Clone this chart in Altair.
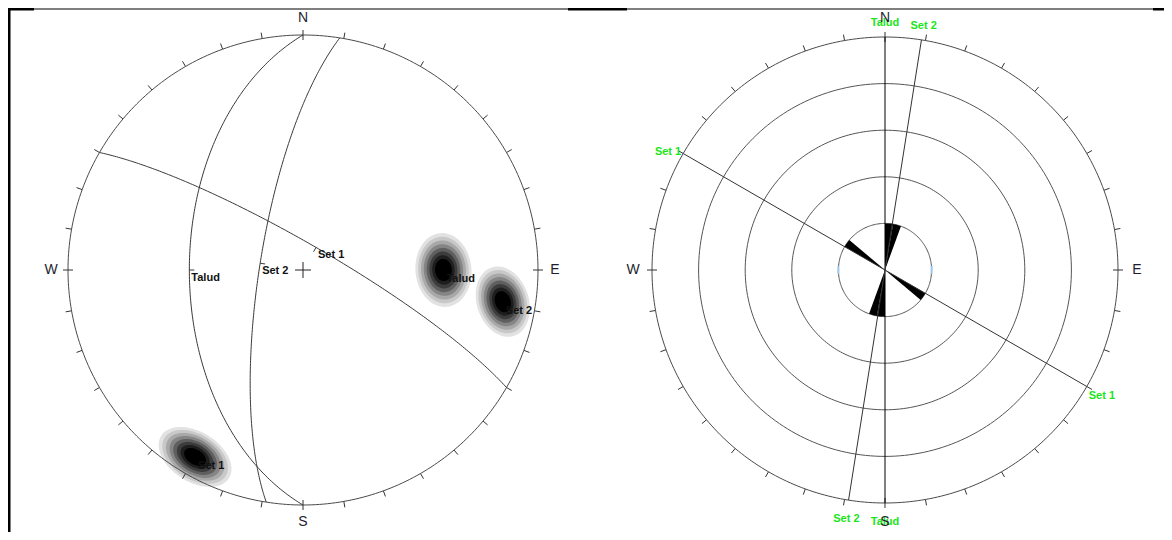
import math
import numpy as np
import pandas as pd
import altair as alt

# ---------------- data ----------------
plane_names = ["Talud", "Set 1", "Set 2"]
dip_directions = [270, 30, 279]
dip_angles = [50, 81, 75]

# spread of each pole cloud (ellipse semi-axes / tilt)
cluster_major = [37, 40, 36]
cluster_minor = [28, 25, 26]
cluster_tilt = [85, 32, 72]
density_levels = [1.0, 0.9, 0.8, 0.7, 0.6, 0.5, 0.4, 0.3]
density_greys = ["#e2e2e2", "#c8c8c8", "#a8a8a8", "#858585", "#5f5f5f", "#3c3c3c", "#1e1e1e", "#000000"]

# rose diagram of strikes
rose_bin_start = [0, 10, 120]
rose_counts = [1, 1, 1]
rose_bin_width = 10
rose_rings = [1, 2, 3, 4, 5]

tick_step = 10
cardinal_labels = ["N", "E", "S", "W"]
cardinal_az = [0, 90, 180, 270]

# ---------------- layout ----------------
W, H = 1156, 524
OFF = 8
CXL, CYL, RL = 303, 270, 235
CXR, CYR, RR = 885, 270, 233
FONT = "Liberation Sans"
GREEN = "#19e619"

XS = alt.Scale(domain=[OFF, OFF + W], nice=False, zero=False)
YS = alt.Scale(domain=[OFF + H, OFF], nice=False, zero=False)


def proj(trend, plunge, cx, cy, R):
    r = R * math.sqrt(2) * math.sin(math.radians(90 - plunge) / 2)
    return cx + r * math.sin(math.radians(trend)), cy - r * math.cos(math.radians(trend))


def great_circle(dd, dip, n=181):
    s = math.radians(dd - 90)
    d = math.radians(dd)
    dp = math.radians(dip)
    sv = np.array([math.sin(s), math.cos(s), 0.0])
    dv = np.array([math.sin(d) * math.cos(dp), math.cos(d) * math.cos(dp), -math.sin(dp)])
    pts = []
    for a in np.linspace(0, 180, n):
        v = math.cos(math.radians(a)) * sv + math.sin(math.radians(a)) * dv
        tr = math.degrees(math.atan2(v[0], v[1]))
        pl = math.degrees(math.asin(max(-1.0, min(1.0, -v[2]))))
        pts.append(proj(tr, pl, CXL, CYL, RL))
    return pts


def pt(cx, cy, r, az):
    return cx + r * math.sin(math.radians(az)), cy - r * math.cos(math.radians(az))


def xy():
    return dict(x=alt.X("x:Q", scale=XS, axis=None), y=alt.Y("y:Q", scale=YS, axis=None))


def xy2():
    return dict(x=alt.X("x:Q", scale=XS, axis=None), y=alt.Y("y:Q", scale=YS, axis=None),
                x2="x2:Q", y2="y2:Q")


layers = []

# ---------- frame ----------
frame = pd.DataFrame([
    dict(x=OFF, y=OFF + 1, x2=OFF + W, y2=OFF + 1, w=1),
    dict(x=OFF, y=OFF + 1, x2=34, y2=OFF + 1, w=3),
    dict(x=568, y=OFF + 1, x2=627, y2=OFF + 1, w=3),
    dict(x=1153, y=OFF + 1, x2=OFF + W, y2=OFF + 1, w=3),
    dict(x=OFF + 1, y=OFF, x2=OFF + 1, y2=OFF + H, w=3),
])
layers.append(alt.Chart(frame).mark_rule(color="#000").encode(
    strokeWidth=alt.StrokeWidth("w:Q", scale=None), **xy2()))

# ---------- left panel: density clusters ----------
poles = [proj((dd + 180) % 360, 90 - dp, CXL, CYL, RL) for dd, dp in zip(dip_directions, dip_angles)]
for lev, col in zip(density_levels, density_greys):
    rows = []
    for k, (name, (px, py)) in enumerate(zip(plane_names, poles)):
        a = cluster_major[k] * lev
        b = cluster_minor[k] * lev
        ph = math.radians(cluster_tilt[k])
        for i, t in enumerate(np.linspace(0, 2 * math.pi, 61)):
            x = px + a * math.cos(t) * math.cos(ph) - b * math.sin(t) * math.sin(ph)
            y = py + a * math.cos(t) * math.sin(ph) + b * math.sin(t) * math.cos(ph)
            rows.append(dict(name=name, i=i, x=x, y=y))
    layers.append(alt.Chart(pd.DataFrame(rows)).mark_line(filled=True, color=col, strokeWidth=0).encode(
        detail="name:N", order="i:Q", **xy()))

# ---------- primitive circles ----------
rows = []
for panel, (cx, cy, R) in enumerate([(CXL, CYL, RL), (CXR, CYR, RR)]):
    for i, az in enumerate(np.linspace(0, 360, 361)):
        x, y = pt(cx, cy, R, az)
        rows.append(dict(panel=panel, i=i, x=x, y=y))
layers.append(alt.Chart(pd.DataFrame(rows)).mark_line(color="#4a4a4a", strokeWidth=1).encode(
    detail="panel:N", order="i:Q", **xy()))

# rose rings
rows = []
for ring in rose_rings[:-1]:
    for i, az in enumerate(np.linspace(0, 360, 241)):
        x, y = pt(CXR, CYR, RR * ring / rose_rings[-1], az)
        rows.append(dict(ring=ring, i=i, x=x, y=y))
layers.append(alt.Chart(pd.DataFrame(rows)).mark_line(color="#555555", strokeWidth=1).encode(
    detail="ring:N", order="i:Q", **xy()))

# ticks
rows = []
for (cx, cy, R) in [(CXL, CYL, RL), (CXR, CYR, RR)]:
    for az in range(0, 360, tick_step):
        if az in cardinal_az:
            r0, r1 = R - 5, R + 5
        else:
            r0, r1 = R, R + 6
        x, y = pt(cx, cy, r0, az)
        x2, y2 = pt(cx, cy, r1, az)
        rows.append(dict(x=x, y=y, x2=x2, y2=y2))
layers.append(alt.Chart(pd.DataFrame(rows)).mark_rule(color="#333333", strokeWidth=1).encode(**xy2()))

# ---------- great circles ----------
rows = []
for name, dd, dp in zip(plane_names, dip_directions, dip_angles):
    for i, (x, y) in enumerate(great_circle(dd, dp)):
        rows.append(dict(name=name, i=i, x=x, y=y))
layers.append(alt.Chart(pd.DataFrame(rows)).mark_line(color="#3a3a3a", strokeWidth=1).encode(
    detail="name:N", order="i:Q", **xy()))

# mid-point ticks + labels
mid_rows, mtick = [], []
for name, dd, dp in zip(plane_names, dip_directions, dip_angles):
    mx, my = proj(dd, dp, CXL, CYL, RL)
    mid_rows.append(dict(name=name, x=mx, y=my))
    ux, uy = math.sin(math.radians(dd + 180)), -math.cos(math.radians(dd + 180))
    mtick.append(dict(x=mx, y=my, x2=mx + 5 * ux, y2=my + 5 * uy))
layers.append(alt.Chart(pd.DataFrame(mtick)).mark_rule(color="#3a3a3a").encode(**xy2()))
layers.append(alt.Chart(pd.DataFrame(mid_rows)).mark_text(
    font=FONT, fontSize=11, fontWeight="bold", align="left", baseline="middle", dx=2, dy=8, color="#111"
).encode(text="name:N", **xy()))

# pole labels
pole_df = pd.DataFrame([dict(name=n, x=p[0], y=p[1]) for n, p in zip(plane_names, poles)])
layers.append(alt.Chart(pole_df).mark_text(
    font=FONT, fontSize=11, fontWeight="bold", align="left", baseline="middle", dx=3, dy=9, color="#111"
).encode(text="name:N", **xy()))

# centre cross
cross = pd.DataFrame([dict(x=CXL - 8, y=CYL, x2=CXL + 8, y2=CYL), dict(x=CXL, y=CYL - 8, x2=CXL, y2=CYL + 8)])
layers.append(alt.Chart(cross).mark_rule(color="#222").encode(**xy2()))

# ---------- rose petals ----------
rows = []
k = 0
for b0, c in zip(rose_bin_start, rose_counts):
    for start in (b0, b0 + 180):
        r = RR * c / rose_rings[-1]
        pts = [(CXR, CYR)] + [pt(CXR, CYR, r, a) for a in np.linspace(start, start + rose_bin_width, 11)] + [(CXR, CYR)]
        for i, (x, y) in enumerate(pts):
            rows.append(dict(p=k, i=i, x=x, y=y))
        k += 1
layers.append(alt.Chart(pd.DataFrame(rows)).mark_line(filled=True, color="#000", strokeWidth=0.5).encode(
    detail="p:N", order="i:Q", **xy()))

# light blue marks on inner ring
blue = pd.DataFrame([dict(x=CXR - RR / 5, y=CYR - 4, x2=CXR - RR / 5, y2=CYR + 4),
                     dict(x=CXR + RR / 5, y=CYR - 4, x2=CXR + RR / 5, y2=CYR + 4)])
layers.append(alt.Chart(blue).mark_rule(color="#9cc8ef", strokeWidth=2).encode(**xy2()))

# strike lines
rows = []
lab_top, lab_bot, lab_w, lab_e = [], [], [], []
for name, dd in zip(plane_names, dip_directions):
    s = (dd - 90) % 180
    x1, y1 = pt(CXR, CYR, RR, s)
    x2, y2 = pt(CXR, CYR, RR, s + 180)
    rows.append(dict(name=name, x=x1, y=y1, x2=x2, y2=y2, col="#000" if name == "Talud" else "#333"))
    for az in (s, s + 180):
        a = az % 360
        ex, ey = pt(CXR, CYR, RR, a)
        if abs(math.cos(math.radians(a))) > 0.7:
            lx, ly = pt(CXR, CYR, RR + 14, a)
            if math.cos(math.radians(a)) > 0:
                lab_top.append(dict(name=name, x=lx, y=ly))
            else:
                lab_bot.append(dict(name=name, x=lx, y=ly + 5))
        elif math.sin(math.radians(a)) < 0:
            lab_w.append(dict(name=name, x=ex, y=ey))
        else:
            lab_e.append(dict(name=name, x=ex, y=ey))
layers.append(alt.Chart(pd.DataFrame(rows)).mark_rule(strokeWidth=1).encode(
    color=alt.Color("col:N", scale=None), **xy2()))

gtxt = dict(font=FONT, fontSize=11, fontWeight="bold", color=GREEN)
if lab_top:
    layers.append(alt.Chart(pd.DataFrame(lab_top)).mark_text(align="center", baseline="middle", **gtxt).encode(text="name:N", **xy()))
if lab_bot:
    layers.append(alt.Chart(pd.DataFrame(lab_bot)).mark_text(align="center", baseline="middle", **gtxt).encode(text="name:N", **xy()))
if lab_w:
    layers.append(alt.Chart(pd.DataFrame(lab_w)).mark_text(align="right", baseline="alphabetic", dx=-2, dy=1, **gtxt).encode(text="name:N", **xy()))
if lab_e:
    layers.append(alt.Chart(pd.DataFrame(lab_e)).mark_text(align="left", baseline="top", dx=2, dy=3, **gtxt).encode(text="name:N", **xy()))

# ---------- cardinal labels ----------
rows = []
for (cx, cy, R) in [(CXL, CYL, RL), (CXR, CYR, RR)]:
    for lab, az in zip(cardinal_labels, cardinal_az):
        x, y = pt(cx, cy, 252, az)
        rows.append(dict(lab=lab, x=x, y=y))
layers.append(alt.Chart(pd.DataFrame(rows)).mark_text(
    font=FONT, fontSize=14, align="center", baseline="middle", color="#1e1e2e"
).encode(text="lab:N", **xy()))

chart = alt.layer(*layers).properties(
    width=W, height=H, padding=0, autosize=alt.AutoSizeParams(type="none")
).configure_view(stroke=None)

chart.save("out.html", embed_options={"renderer": "svg", "actions": False})
